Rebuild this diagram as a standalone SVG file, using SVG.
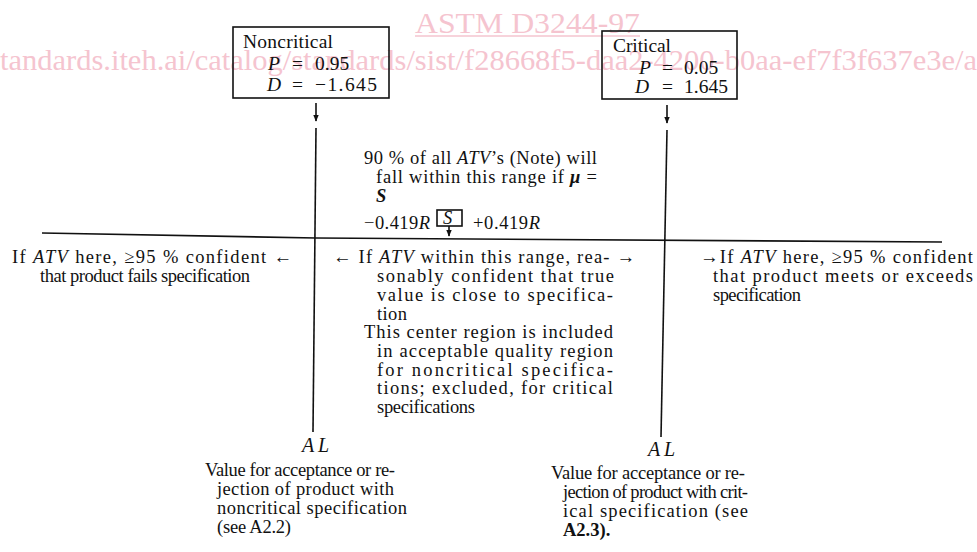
<svg xmlns="http://www.w3.org/2000/svg" width="977" height="552" viewBox="0 0 977 552">
<defs>
<style>
.t{font-family:"Liberation Serif","Times New Roman",serif;font-size:18.5px;fill:#111}
.bx{font-size:19.5px}
.i{font-style:italic}
.b{font-weight:bold}
.wm{font-family:"Liberation Serif","Times New Roman",serif;font-size:30px;fill:#f5c4cf}
.ln{stroke:#111;stroke-width:1.6;fill:none}
.box{stroke:#111;stroke-width:1.6;fill:none}
</style>
<marker id="ah" viewBox="0 0 10 10" refX="9" refY="5" markerWidth="7" markerHeight="7" markerUnits="userSpaceOnUse" orient="auto">
<path d="M0,1 L10,5 L0,9 Z" fill="#111"/>
</marker>
</defs>
<rect width="977" height="552" fill="#fff"/>
<g id="watermark">
<text class="wm" x="415" y="33" textLength="225" lengthAdjust="spacingAndGlyphs">ASTM D3244-97</text>
<line x1="415" y1="36" x2="640" y2="36" stroke="#f5c4cf" stroke-width="1.5"/>
<text class="wm" x="0" y="70" textLength="977" lengthAdjust="spacingAndGlyphs">tandards.iteh.ai/catalog/standards/sist/f28668f5-daa2-4200-b0aa-ef7f3f637e3e/a</text>
</g>
<g id="connectors">
<line class="ln" x1="316" y1="103" x2="316" y2="121" marker-end="url(#ah)"/>
<line class="ln" x1="667" y1="105" x2="667" y2="123" marker-end="url(#ah)"/>
<line class="ln" x1="316" y1="128" x2="313" y2="432"/>
<line class="ln" x1="667" y1="130" x2="661" y2="437"/>
<polyline class="ln" points="42,233 316,238 942,242"/>
<line class="ln" x1="449" y1="226" x2="449" y2="236" marker-end="url(#ah)"/>
</g>
<g id="node-noncritical">
<rect class="box" x="233" y="27" width="156" height="71"/>
<text class="t bx" x="243" y="48" textLength="90" lengthAdjust="spacing">Noncritical</text>
<text class="t bx" y="70"><tspan class="i" x="268">P</tspan><tspan x="292">=</tspan><tspan x="315">0.95</tspan></text>
<text class="t bx" y="91"><tspan class="i" x="267">D</tspan><tspan x="292">=</tspan><tspan x="315" textLength="62" lengthAdjust="spacing">−1.645</tspan></text>
</g>
<g id="node-critical">
<rect class="box" x="602" y="31" width="135" height="68"/>
<text class="t bx" x="613" y="52" textLength="58" lengthAdjust="spacing">Critical</text>
<text class="t bx" y="74"><tspan class="i" x="639">P</tspan><tspan x="662">=</tspan><tspan x="684">0.05</tspan></text>
<text class="t bx" y="93"><tspan class="i" x="635">D</tspan><tspan x="662">=</tspan><tspan x="684">1.645</tspan></text>
</g>
<g id="node-range-note">
<text class="t" x="364" y="164" textLength="233" lengthAdjust="spacing">90 % of all <tspan class="i">ATV</tspan>’s (Note) will</text>
<text class="t" x="376" y="183" textLength="221" lengthAdjust="spacing">fall within this range if <tspan class="i b">μ</tspan> =</text>
<text class="t i b" x="376" y="202">S</text>
<text class="t" x="364" y="229" textLength="66" lengthAdjust="spacing">−0.419<tspan class="i">R</tspan></text>
<rect class="box" x="437" y="210" width="25" height="16"/>
<text class="t i" x="443" y="224">S</text>
<text class="t" x="473" y="229" textLength="67" lengthAdjust="spacing">+0.419<tspan class="i">R</tspan></text>
</g>
<g id="node-fails">
<text class="t" x="12" y="263" textLength="280" lengthAdjust="spacing">If <tspan class="i">ATV</tspan> here, ≥95 % confident ←</text>
<text class="t" x="40" y="282" textLength="210" lengthAdjust="spacing">that product fails specification</text>
</g>
<g id="node-center">
<text class="t" x="333" y="263" textLength="302" lengthAdjust="spacing">← If <tspan class="i">ATV</tspan> within this range, rea- →</text>
<text class="t" x="377" y="282" textLength="237" lengthAdjust="spacing">sonably confident that true</text>
<text class="t" x="377" y="301" textLength="236" lengthAdjust="spacing">value is close to specifica-</text>
<text class="t" x="377" y="320" textLength="30" lengthAdjust="spacing">tion</text>
<text class="t" x="364" y="338" textLength="249" lengthAdjust="spacing">This center region is included</text>
<text class="t" x="377" y="357" textLength="236" lengthAdjust="spacing">in acceptable quality region</text>
<text class="t" x="377" y="376" textLength="236" lengthAdjust="spacing">for noncritical specifica-</text>
<text class="t" x="377" y="394" textLength="236" lengthAdjust="spacing">tions; excluded, for critical</text>
<text class="t" x="377" y="413" textLength="98" lengthAdjust="spacing">specifications</text>
</g>
<g id="node-meets">
<text class="t" x="700" y="263" textLength="273" lengthAdjust="spacing">→If <tspan class="i">ATV</tspan> here, ≥95 % confident</text>
<text class="t" x="713" y="282" textLength="260" lengthAdjust="spacing">that product meets or exceeds</text>
<text class="t" x="713" y="301" textLength="88" lengthAdjust="spacing">specification</text>
</g>
<g id="node-al-noncritical">
<text class="t i" x="302" y="452" style="font-size:20px" textLength="27" lengthAdjust="spacing">AL</text>
<text class="t" x="205" y="476" textLength="190" lengthAdjust="spacing">Value for acceptance or re-</text>
<text class="t" x="217" y="495" textLength="177" lengthAdjust="spacing">jection of product with</text>
<text class="t" x="217" y="514" textLength="190" lengthAdjust="spacing">noncritical specification</text>
<text class="t" x="217" y="533" textLength="74" lengthAdjust="spacing">(see A2.2)</text>
</g>
<g id="node-al-critical">
<text class="t i" x="648" y="456" style="font-size:20px" textLength="27" lengthAdjust="spacing">AL</text>
<text class="t" x="551" y="479" textLength="194" lengthAdjust="spacing">Value for acceptance or re-</text>
<text class="t" x="563" y="498" textLength="185" lengthAdjust="spacing">jection of product with crit-</text>
<text class="t" x="563" y="517" textLength="185" lengthAdjust="spacing">ical specification (see</text>
<text class="t b" x="563" y="536">A2.3).</text>
</g>
</svg>
